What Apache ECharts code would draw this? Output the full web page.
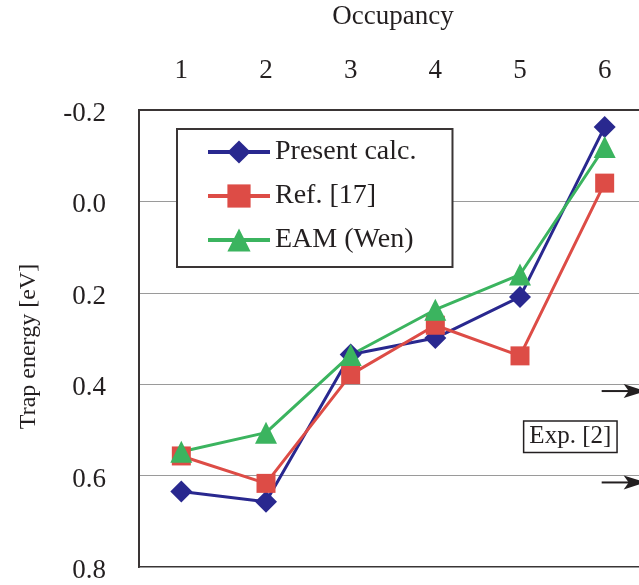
<!DOCTYPE html>
<html><head><meta charset="utf-8">
<script src="https://cdn.jsdelivr.net/npm/echarts@6/dist/echarts.min.js"></script>
<style>html,body{margin:0;padding:0;background:#fff}#c{width:639px;height:585px}</style>
</head><body><div id="c"></div>
<script>
const categories = ['1','2','3','4','5','6'];
const presentCalc = [0.635, 0.657, 0.335, 0.299, 0.209, -0.163];
const ref17 = [0.557, 0.617, 0.379, 0.271, 0.338, -0.040];
const eamWen = [0.548, 0.506, 0.336, 0.237, 0.160, -0.119];
const expValues = [0.415, 0.615];
const yTicks = {min: -0.2, max: 0.8, interval: 0.2};

const FONT = "'Liberation Serif','Times New Roman',serif";
const TXT = '#231f20';
const chart = echarts.init(document.getElementById('c'), null, {renderer: 'canvas'});

function mk(name, data, color, symbol, size) {
  return {
    name, type: 'line', data, symbol, symbolSize: size,
    lineStyle: {color, width: 3}, itemStyle: {color},
    z: 3, animation: false
  };
}

chart.setOption({
  animation: false,
  grid: {left: 139, top: 110, width: 508, height: 457, show: true,
         outerBoundsMode: 'none', containLabel: false,
         borderColor: '#3a3535', borderWidth: 2, backgroundColor: 'transparent'},
  xAxis: {
    type: 'category', data: categories, position: 'top', boundaryGap: true,
    name: 'Occupancy', nameLocation: 'middle', nameGap: 80,
    nameTextStyle: {fontFamily: FONT, fontSize: 27, color: TXT},
    axisLine: {show: true, onZero: false, lineStyle: {color: '#3a3535', width: 2}},
    axisTick: {show: false},
    axisLabel: {fontFamily: FONT, fontSize: 27, color: TXT, margin: 26},
    splitLine: {show: false}
  },
  yAxis: {
    type: 'value', inverse: true, min: yTicks.min, max: yTicks.max, interval: yTicks.interval,
    name: 'Trap energy [eV]', nameLocation: 'middle', nameGap: 98,
    nameTextStyle: {fontFamily: FONT, fontSize: 24, color: TXT, padding: [0, 16, 0, 0]},
    axisLine: {show: true, onZero: false, lineStyle: {color: '#3a3535', width: 2}},
    axisTick: {show: false},
    axisLabel: {fontFamily: FONT, fontSize: 27, color: TXT, margin: 33,
                formatter: v => '{v|' + v.toFixed(1) + '}',
                rich: {v: {fontFamily: FONT, fontSize: 27, color: TXT, padding: [8, 0, 0, 0]}}},
    splitLine: {show: true, lineStyle: {color: '#9a9a9a', width: 1}}
  },
  legend: {
    orient: 'vertical', left: 177, top: 129,
    padding: [7, 36, 11, 29], itemGap: 12, itemWidth: 62, itemHeight: 29,
    borderColor: '#3a3535', borderWidth: 2, backgroundColor: '#fff',
    lineStyle: {width: 4},
    textStyle: {fontFamily: FONT, fontSize: 28, color: TXT, lineHeight: 32},
    data: ['Present calc.', 'Ref. [17]', 'EAM (Wen)']
  },
  series: [
    mk('Present calc.', presentCalc, '#29288f', 'diamond', 22),
    mk('Ref. [17]', ref17, '#dd4c46', 'rect', 19),
    mk('EAM (Wen)', eamWen, '#3bb45f', 'triangle', 22)
  ]
});

// Experimental arrows and label
const arrowX0 = chart.convertToPixel({xAxisIndex: 0}, '6') - 3;
const gfx = [];
expValues.forEach(v => {
  const y = chart.convertToPixel({yAxisIndex: 0}, v);
  gfx.push({type: 'line', shape: {x1: arrowX0, y1: y, x2: arrowX0 + 30, y2: y},
            style: {stroke: '#231f20', lineWidth: 2}, z: 10});
  gfx.push({type: 'polygon', shape: {points: [[arrowX0 + 22, y - 7], [arrowX0 + 44, y], [arrowX0 + 22, y + 7], [arrowX0 + 27, y]]},
            style: {fill: '#231f20'}, z: 10});
});
const midY = chart.convertToPixel({yAxisIndex: 0}, (expValues[0] + expValues[1]) / 2);
const midX = (chart.convertToPixel({xAxisIndex: 0}, '5') + chart.convertToPixel({xAxisIndex: 0}, '6')) / 2 + 8;
gfx.push({type: 'text', x: midX, y: midY, z: 10,
  style: {text: 'Exp. [2]', font: '25px ' + FONT, fill: TXT, align: 'center', verticalAlign: 'middle',
          borderColor: '#231f20', borderWidth: 1.5, padding: [3, 5, 2, 5], backgroundColor: '#fff'}});
chart.setOption({graphic: gfx});
</script></body></html>
